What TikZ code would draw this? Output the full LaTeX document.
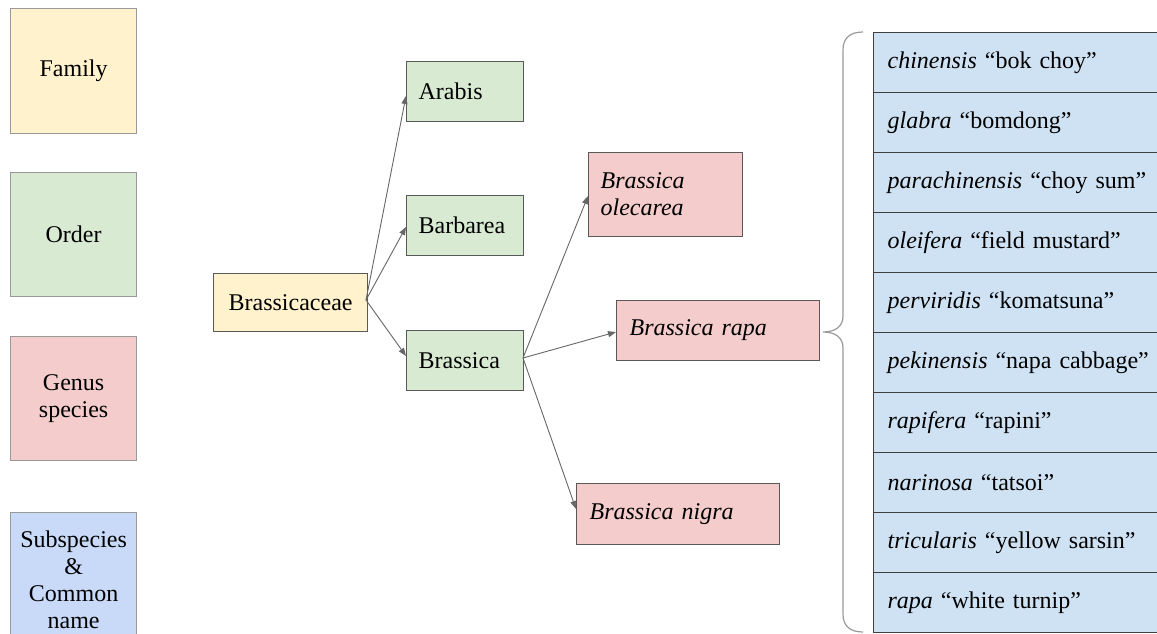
\documentclass[tikz,border=0pt]{standalone}
\usepackage{fontspec}
\setmainfont{Liberation Serif}
\usetikzlibrary{arrows.meta}
\definecolor{famfill}{HTML}{FFF2CC}
\definecolor{ordfill}{HTML}{D9EAD3}
\definecolor{genfill}{HTML}{F4CCCC}
\definecolor{legblue}{HTML}{C9DAF8}
\definecolor{tabblue}{HTML}{CFE2F3}
\definecolor{boxline}{HTML}{595959}
\definecolor{legline}{HTML}{999999}
\definecolor{arrline}{HTML}{666666}
\tikzset{
  basebox/.style={draw=boxline, line width=1.2pt, anchor=north west, font=\fontsize{24}{27}\selectfont, inner sep=0pt},
  legbox/.style={basebox, draw=legline, minimum width=126pt, align=center},
  treebox/.style={basebox},
  leftbox/.style={basebox, align=left},
  row/.style={basebox, draw=black!75, fill=tabblue, minimum width=287pt, minimum height=60pt, text width=259pt, align=left},
  conn/.style={draw=arrline, line width=0.9pt, -{Triangle[length=8pt,width=6pt]}}
}
\begin{document}
\begin{tikzpicture}[x=1pt,y=-1pt]
\useasboundingbox (0,0) rectangle (1157,634);
% legend
\node[legbox, fill=famfill, minimum height=125pt] (lfam) at (10,8) {Family};
\node[legbox, fill=ordfill, minimum height=124pt] (lord) at (10,172) {Order};
\node[legbox, fill=genfill, minimum height=124pt] (lgen) at (10,336) {Genus\\species};
\node[legbox, fill=legblue, minimum height=134pt] (lsub) at (10,512) {Subspecies\\\&\\Common\\name};
% tree
\node[treebox, fill=famfill, minimum width=154pt, minimum height=58pt] (fam) at (213,273) {Brassicaceae};
\node[leftbox, fill=ordfill, minimum width=117pt, minimum height=60pt, text width=93pt] (arabis) at (406,61) {Arabis};
\node[leftbox, fill=ordfill, minimum width=117pt, minimum height=60pt, text width=93pt] (barbarea) at (406,195) {Barbarea};
\node[leftbox, fill=ordfill, minimum width=117pt, minimum height=60pt, text width=93pt] (brassica) at (406,330) {Brassica};
\node[leftbox, fill=genfill, minimum width=154pt, minimum height=84pt, text width=130pt] (olec) at (588,152) {\itshape Brassica\\\itshape olecarea};
\node[leftbox, fill=genfill, minimum width=203pt, minimum height=60pt, text width=177pt] (rapa) at (616,300) {\itshape Brassica rapa};
\node[leftbox, fill=genfill, minimum width=203pt, minimum height=61pt, text width=177pt] (nigra) at (576,483) {\itshape Brassica nigra};
% connectors
\coordinate (fs) at (366,300);
\coordinate (bs) at (523,358);
\draw[conn] (fs) -- (arabis.west |- 0,96);
\draw[conn] (fs) -- (barbarea.west |- 0,227);
\draw[conn] (fs) -- (brassica.west |- 0,356);
\draw[conn] (bs) -- (olec.west |- 0,196);
\draw[conn] (bs) -- (rapa.west |- 0,332);
\draw[conn] (bs) -- (nigra.west |- 0,509);
% table
\node[row] (r1) at (873,32) {\textit{chinensis} “bok choy”};
\node[row] (r2) at (873,92) {\textit{glabra} “bomdong”};
\node[row] (r3) at (873,152) {\mbox{\textit{parachinensis} “choy sum”}};
\node[row] (r4) at (873,212) {\mbox{\textit{oleifera} “field mustard”}};
\node[row] (r5) at (873,272) {\textit{perviridis} “komatsuna”};
\node[row] (r6) at (873,332) {\mbox{\textit{pekinensis} “napa cabbage”}};
\node[row] (r7) at (873,392) {\textit{rapifera} “rapini”};
\node[row] (r8) at (873,452) {\textit{narinosa} “tatsoi”};
\node[row] (r9) at (873,512) {\mbox{\textit{tricularis} “yellow sarsin”}};
\node[row] (r10) at (873,572) {\textit{rapa} “white turnip”};
% brace
\draw[draw=legline, line width=1.2pt]
  (863,32) .. controls (850,32) and (843,38) .. (843,50)
  -- (843,316) .. controls (843,326) and (836,332) .. (823,332)
  .. controls (836,332) and (843,338) .. (843,348)
  -- (843,614) .. controls (843,626) and (850,632) .. (863,632);
\end{tikzpicture}
\end{document}
